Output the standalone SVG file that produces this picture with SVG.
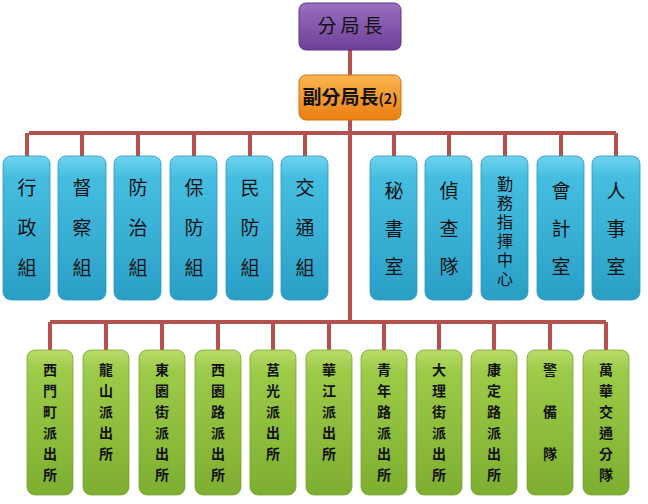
<svg xmlns="http://www.w3.org/2000/svg" width="648" height="504" viewBox="0 0 648 504">
<defs>
<linearGradient id="gb" x1="0" y1="0" x2="0" y2="1"><stop offset="0" stop-color="#6fd4ee"/><stop offset="0.15" stop-color="#45bde0"/><stop offset="1" stop-color="#2a9fc6"/></linearGradient>
<linearGradient id="gg" x1="0" y1="0" x2="0" y2="1"><stop offset="0" stop-color="#b8dc6a"/><stop offset="0.15" stop-color="#9ccb48"/><stop offset="1" stop-color="#7eae30"/></linearGradient>
<linearGradient id="gp" x1="0" y1="0" x2="0" y2="1"><stop offset="0" stop-color="#9a70c0"/><stop offset="1" stop-color="#6e3f98"/></linearGradient>
<linearGradient id="go" x1="0" y1="0" x2="0" y2="1"><stop offset="0" stop-color="#fbb450"/><stop offset="1" stop-color="#e97f10"/></linearGradient>
</defs>
<style>
.c{stroke:#b5504c;stroke-width:4;fill:none}
.b{fill:url(#gb);stroke:#2a9ac0;stroke-width:0.8}
.g{fill:url(#gg);stroke:#78a530;stroke-width:0.8}
.tb{font-family:"Noto Sans CJK TC",sans-serif;font-size:19px;fill:#111;text-anchor:middle}
.ts{font-family:"Noto Sans CJK TC",sans-serif;font-size:16px;fill:#111;writing-mode:tb;letter-spacing:3px}
.tg{font-family:"Noto Sans CJK TC",serif;font-size:14px;font-weight:bold;fill:#111;text-anchor:middle}
.tt{font-family:"Noto Sans CJK TC",sans-serif;font-size:19px;fill:#111;text-anchor:middle}
</style>
<rect width="648" height="504" fill="#fff"/>
<g id="connectors">
<path class="c" d="M350 50V75M350 120V322M29 133H616M27 133V156M82 133V156M138 133V156M194 133V156M250 133V156M305 133V156M394 133V156M449 133V156M505 133V156M561 133V156M616 133V156M50 322H606M50 322V350M106 322V350M162 322V350M218 322V350M273 322V350M329 322V350M384 322V350M439 322V350M494 322V350M550 322V350M606 322V350"/>
</g>
<g id="chief"><rect x="299" y="3" width="102" height="47" rx="7" fill="url(#gp)" stroke="#5e3385"/><text class="tt" x="352" y="33" letter-spacing="4">分局長</text></g>
<g id="deputy"><rect x="299" y="75" width="102" height="45" rx="7" fill="url(#go)" stroke="#d07010"/><text class="tt" x="350" y="104" font-weight="bold">副分局長<tspan font-size="14">(2)</tspan></text></g>
<g id="b1"><rect class="b" x="3" y="156" width="47" height="144" rx="8"/><text class="tb" x="27" y="195">行</text><text class="tb" x="27" y="235">政</text><text class="tb" x="27" y="275">組</text></g>
<g id="b2"><rect class="b" x="58" y="156" width="48" height="144" rx="8"/><text class="tb" x="82" y="195">督</text><text class="tb" x="82" y="235">察</text><text class="tb" x="82" y="275">組</text></g>
<g id="b3"><rect class="b" x="114" y="156" width="47" height="144" rx="8"/><text class="tb" x="138" y="195">防</text><text class="tb" x="138" y="235">治</text><text class="tb" x="138" y="275">組</text></g>
<g id="b4"><rect class="b" x="170" y="156" width="47" height="144" rx="8"/><text class="tb" x="194" y="195">保</text><text class="tb" x="194" y="235">防</text><text class="tb" x="194" y="275">組</text></g>
<g id="b5"><rect class="b" x="226" y="156" width="47" height="144" rx="8"/><text class="tb" x="250" y="195">民</text><text class="tb" x="250" y="235">防</text><text class="tb" x="250" y="275">組</text></g>
<g id="b6"><rect class="b" x="281" y="156" width="47" height="144" rx="8"/><text class="tb" x="305" y="195">交</text><text class="tb" x="305" y="235">通</text><text class="tb" x="305" y="275">組</text></g>
<g id="b7"><rect class="b" x="370" y="156" width="47" height="144" rx="8"/><text class="tb" x="394" y="198">秘</text><text class="tb" x="394" y="236">書</text><text class="tb" x="394" y="274">室</text></g>
<g id="b8"><rect class="b" x="425" y="156" width="47" height="144" rx="8"/><text class="tb" x="449" y="198">偵</text><text class="tb" x="449" y="236">查</text><text class="tb" x="449" y="274">隊</text></g>
<g id="b9"><rect class="b" x="481" y="156" width="47" height="144" rx="8"/><text class="ts" x="505" y="176">勤務指揮中心</text></g>
<g id="b10"><rect class="b" x="537" y="156" width="47" height="144" rx="8"/><text class="tb" x="561" y="198">會</text><text class="tb" x="561" y="236">計</text><text class="tb" x="561" y="274">室</text></g>
<g id="b11"><rect class="b" x="592" y="156" width="48" height="144" rx="8"/><text class="tb" x="616" y="198">人</text><text class="tb" x="616" y="236">事</text><text class="tb" x="616" y="274">室</text></g>
<g id="g1"><rect class="g" x="27" y="350" width="46" height="145" rx="8"/><text class="tg" x="50" y="375">西</text><text class="tg" x="50" y="396">門</text><text class="tg" x="50" y="417">町</text><text class="tg" x="50" y="438">派</text><text class="tg" x="50" y="459">出</text><text class="tg" x="50" y="480">所</text></g>
<g id="g2"><rect class="g" x="83" y="350" width="46" height="145" rx="8"/><text class="tg" x="106" y="375">龍</text><text class="tg" x="106" y="396">山</text><text class="tg" x="106" y="417">派</text><text class="tg" x="106" y="438">出</text><text class="tg" x="106" y="459">所</text></g>
<g id="g3"><rect class="g" x="139" y="350" width="46" height="145" rx="8"/><text class="tg" x="162" y="375">東</text><text class="tg" x="162" y="396">園</text><text class="tg" x="162" y="417">街</text><text class="tg" x="162" y="438">派</text><text class="tg" x="162" y="459">出</text><text class="tg" x="162" y="480">所</text></g>
<g id="g4"><rect class="g" x="195" y="350" width="46" height="145" rx="8"/><text class="tg" x="218" y="375">西</text><text class="tg" x="218" y="396">園</text><text class="tg" x="218" y="417">路</text><text class="tg" x="218" y="438">派</text><text class="tg" x="218" y="459">出</text><text class="tg" x="218" y="480">所</text></g>
<g id="g5"><rect class="g" x="250" y="350" width="46" height="145" rx="8"/><text class="tg" x="273" y="375">莒</text><text class="tg" x="273" y="396">光</text><text class="tg" x="273" y="417">派</text><text class="tg" x="273" y="438">出</text><text class="tg" x="273" y="459">所</text></g>
<g id="g6"><rect class="g" x="306" y="350" width="46" height="145" rx="8"/><text class="tg" x="329" y="375">華</text><text class="tg" x="329" y="396">江</text><text class="tg" x="329" y="417">派</text><text class="tg" x="329" y="438">出</text><text class="tg" x="329" y="459">所</text></g>
<g id="g7"><rect class="g" x="361" y="350" width="46" height="145" rx="8"/><text class="tg" x="384" y="375">青</text><text class="tg" x="384" y="396">年</text><text class="tg" x="384" y="417">路</text><text class="tg" x="384" y="438">派</text><text class="tg" x="384" y="459">出</text><text class="tg" x="384" y="480">所</text></g>
<g id="g8"><rect class="g" x="416" y="350" width="46" height="145" rx="8"/><text class="tg" x="439" y="375">大</text><text class="tg" x="439" y="396">理</text><text class="tg" x="439" y="417">街</text><text class="tg" x="439" y="438">派</text><text class="tg" x="439" y="459">出</text><text class="tg" x="439" y="480">所</text></g>
<g id="g9"><rect class="g" x="471" y="350" width="46" height="145" rx="8"/><text class="tg" x="494" y="375">康</text><text class="tg" x="494" y="396">定</text><text class="tg" x="494" y="417">路</text><text class="tg" x="494" y="438">派</text><text class="tg" x="494" y="459">出</text><text class="tg" x="494" y="480">所</text></g>
<g id="g10"><rect class="g" x="527" y="350" width="46" height="145" rx="8"/><text class="tg" x="550" y="375">警</text><text class="tg" x="550" y="417">備</text><text class="tg" x="550" y="459">隊</text></g>
<g id="g11"><rect class="g" x="583" y="350" width="46" height="145" rx="8"/><text class="tg" x="606" y="375">萬</text><text class="tg" x="606" y="396">華</text><text class="tg" x="606" y="417">交</text><text class="tg" x="606" y="438">通</text><text class="tg" x="606" y="459">分</text><text class="tg" x="606" y="480">隊</text></g>
</svg>
